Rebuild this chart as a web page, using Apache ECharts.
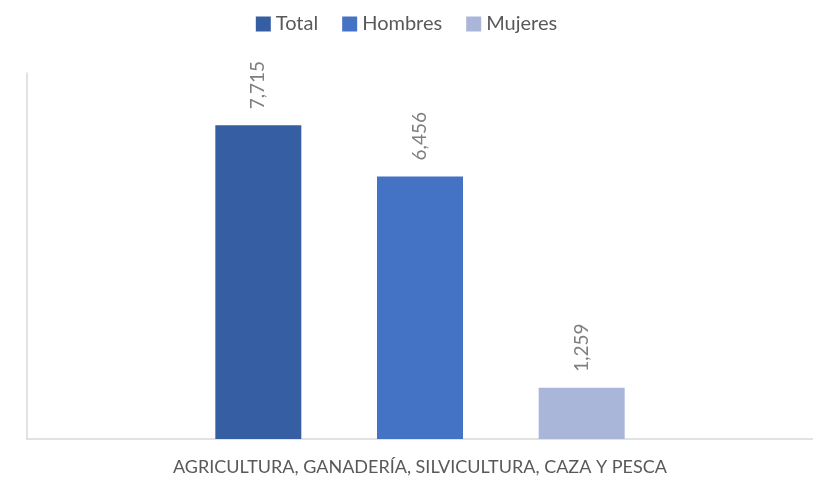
<!DOCTYPE html>
<html>
<head>
<meta charset="utf-8">
<script src="https://cdn.jsdelivr.net/npm/echarts@6/dist/echarts.min.js"></script>
<style>
  html, body { margin: 0; padding: 0; background: #fff; }
  #chart { width: 813px; height: 478px; }
</style>
</head>
<body>
<div id="chart"></div>
<script>
// datos
var categorias = ['AGRICULTURA, GANADERÍA, SILVICULTURA, CAZA Y PESCA'];
var total = [7715];
var hombres = [6456];
var mujeres = [1259];

var fuente = 'Lato, "Open Sans", sans-serif';

var myChart = echarts.init(document.getElementById('chart'));

// etiqueta vertical encima de cada barra
function etiqueta() {
    return {
        show: true,
        position: 'top',
        rotate: 90,
        align: 'left',
        verticalAlign: 'middle',
        distance: 16,
        color: '#7f7f7f',
        fontSize: 19,
        fontFamily: fuente,
        formatter: function (p) {
            return p.value.toLocaleString('en-US');
        }
    };
}

var option = {
    animation: false,
    legend: {
        top: 9,
        left: 'center',
        itemWidth: 15,
        itemHeight: 15,
        itemGap: 24,
        icon: 'rect',
        textStyle: { color: '#595959', fontSize: 20, fontFamily: fuente },
        data: ['Total', 'Hombres', 'Mujeres']
    },
    grid: { left: 27, right: -2, top: 73, bottom: 39 },
    xAxis: {
        type: 'category',
        data: categorias,
        axisLine: { lineStyle: { color: '#d9d9d9', width: 1.5 } },
        axisTick: { show: false },
        axisLabel: {
            color: '#595959',
            fontSize: 18,
            fontFamily: fuente,
            margin: 19
        }
    },
    yAxis: {
        type: 'value',
        min: 0,
        max: 9000,
        interval: 9000,
        axisLine: { show: true, lineStyle: { color: '#d9d9d9', width: 1.5 } },
        axisTick: { show: false },
        axisLabel: { show: false },
        splitLine: { show: false }
    },
    series: [
        {
            name: 'Total',
            type: 'bar',
            data: total,
            barWidth: 86,
            barGap: '88%',
            itemStyle: { color: '#365ea2' },
            label: etiqueta()
        },
        {
            name: 'Hombres',
            type: 'bar',
            data: hombres,
            barWidth: 86,
            barGap: '88%',
            itemStyle: { color: '#4472c4' },
            label: etiqueta()
        },
        {
            name: 'Mujeres',
            type: 'bar',
            data: mujeres,
            barWidth: 86,
            barGap: '88%',
            itemStyle: { color: '#a9b6da' },
            label: etiqueta()
        }
    ]
};

myChart.setOption(option);
</script>
</body>
</html>
